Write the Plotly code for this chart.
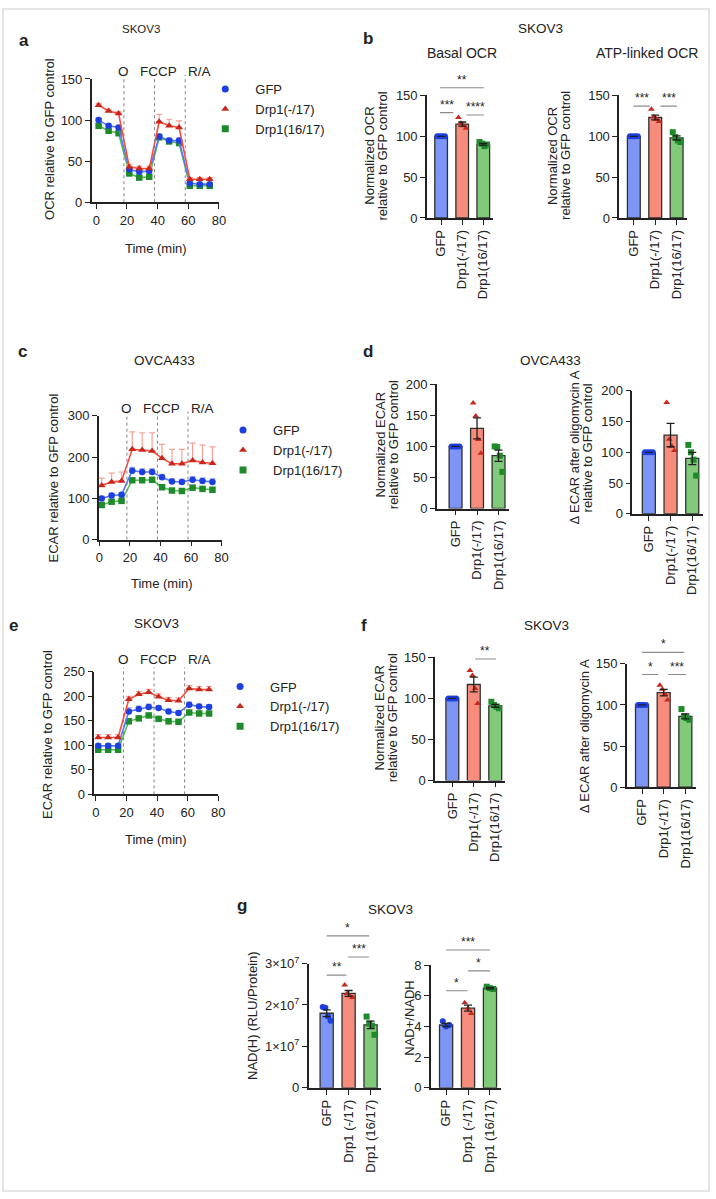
import plotly.graph_objects as go

# ---------------------------------------------------------------- data
TIME_MIN = [1.5, 8, 14.5, 21.5, 28, 34.5, 41, 47.5, 54, 61, 67.5, 74]
INJECTION_MIN = [18, 38, 58]
INJECTION_LABELS = ["O", "FCCP", "R/A"]
GROUPS = ["GFP", "Drp1(-/17)", "Drp1(16/17)"]
GROUPS_G = ["GFP", "Drp1 (-/17)", "Drp1 (16/17)"]

# a: SKOV3 OCR time course (GFP, Drp1(-/17), Drp1(16/17))
A_GFP = [100, 93, 91, 40, 37, 38, 80, 75, 75, 23, 22, 22]
A_M17 = [118, 111, 108, 43, 41, 41, 98, 93, 91, 28, 28, 28]
A_1617 = [93, 87, 84, 35, 30, 31, 79, 74, 72, 20, 20, 20]
A_GFP_ERR = [2, 2, 2, 2, 2, 2, 3, 3, 3, 1, 1, 1]
A_M17_ERR = [2, 2, 2, 3, 3, 3, 9, 8, 8, 2, 2, 2]
A_1617_ERR = [2, 2, 2, 2, 2, 2, 2, 2, 2, 1, 1, 1]

# c: OVCA433 ECAR time course
C_GFP = [100, 107, 109, 167, 164, 164, 151, 141, 140, 145, 142, 140]
C_M17 = [131, 140, 142, 219, 217, 215, 197, 184, 184, 192, 187, 185]
C_1617 = [84, 92, 94, 144, 144, 145, 127, 119, 118, 126, 123, 121]
C_GFP_ERR = [5, 5, 5, 8, 8, 8, 7, 7, 7, 8, 8, 8]
C_M17_ERR = [18, 21, 22, 42, 42, 44, 34, 35, 35, 42, 42, 40]
C_1617_ERR = [3, 3, 3, 5, 5, 5, 4, 4, 4, 5, 5, 5]

# e: SKOV3 ECAR time course
E_GFP = [99, 99, 99, 169, 174, 178, 176, 169, 166, 183, 179, 178]
E_M17 = [116, 116, 116, 194, 204, 208, 199, 192, 191, 216, 214, 214]
E_1617 = [91, 91, 91, 149, 155, 161, 154, 149, 148, 167, 165, 165]
E_GFP_ERR = [4, 4, 4, 8, 6, 6, 5, 5, 5, 5, 5, 5]
E_M17_ERR = [6, 6, 6, 6, 6, 6, 6, 6, 6, 6, 6, 6]
E_1617_ERR = [3, 3, 3, 3, 3, 3, 3, 3, 3, 3, 3, 3]

# b: SKOV3 basal / ATP-linked OCR (bar = mean, error = SEM, replicate points)
B_BASAL_MEAN = [100, 115, 90]
B_BASAL_SEM = [0, 2.5, 1.2]
B_BASAL_PTS = [[100, 100, 100, 100], [123, 116, 113, 110], [93, 91, 88, 90]]
B_ATP_MEAN = [100, 123, 98]
B_ATP_SEM = [0, 3, 2.5]
B_ATP_PTS = [[100, 100, 100, 100], [133, 124, 121, 118], [105, 99, 95, 93]]

# d: OVCA433 ECAR
D_ECAR_MEAN = [100, 129, 85]
D_ECAR_SEM = [0, 17, 9]
D_ECAR_PTS = [[100, 100, 100, 100], [170, 149, 111, 89], [100, 99, 85, 59]]
D_DELTA_MEAN = [100, 128, 90]
D_DELTA_SEM = [0, 19, 10]
D_DELTA_PTS = [[100, 100, 100, 100], [181, 121, 110, 103], [112, 100, 88, 62]]

# f: SKOV3 ECAR
F_ECAR_MEAN = [100, 117, 91]
F_ECAR_SEM = [0, 9, 1.7]
F_ECAR_PTS = [[100, 100, 100, 100], [134, 128, 112, 94], [96, 92, 90, 88]]
F_DELTA_MEAN = [100, 115, 86]
F_DELTA_SEM = [0, 4, 3]
F_DELTA_PTS = [[100, 100, 100, 100], [124, 119, 113, 106], [95, 86, 84, 82]]

# g: SKOV3 NAD(H) and NAD+/NADH
G_NADH_MEAN = [1.80e7, 2.28e7, 1.52e7]
G_NADH_SEM = [0.08e7, 0.07e7, 0.09e7]
G_NADH_PTS = [[1.95e7, 1.93e7, 1.72e7, 1.62e7], [2.48e7, 2.28e7, 2.22e7, 2.18e7],
              [1.72e7, 1.55e7, 1.50e7, 1.28e7]]
G_RATIO_MEAN = [4.1, 5.2, 6.5]
G_RATIO_SEM = [0.1, 0.2, 0.05]
G_RATIO_PTS = [[4.35, 4.0, 4.1], [5.55, 5.2, 4.85], [6.6, 6.5, 6.45]]

# significance brackets: (x start, x end, height, label)
SIG_B_BASAL = [(-0.05, 2.03, 159.5, "**"), (-0.05, 0.58, 129, "***"), (1.2, 2.03, 126, "****")]
SIG_B_ATP = [(-0.02, 0.75, 137, "***"), (1.25, 2.01, 137, "***")]
SIG_F_ECAR = [(1.06, 2.03, 148, "**")]
SIG_F_DELTA = [(0, 1.95, 164, "*"), (0, 0.75, 137, "*"), (1.2, 2.03, 137, "***")]
SIG_G_NADH = [(0, 1.94, 3.67e7, "*"), (0.97, 1.94, 3.16e7, "***"), (0, 0.9, 2.72e7, "**")]
SIG_G_RATIO = [(0, 2.0, 9.0, "***"), (1.0, 2.0, 7.63, "*"), (0, 0.98, 6.34, "*")]

# ---------------------------------------------------------------- style
W, H = 716, 1199
FONT = "Arial, Liberation Sans, Helvetica, sans-serif"
INK = "#222222"
LINE_COLORS = ["#5577ff", "#ff4b3b", "#52c052"]
MARKER_COLORS = ["#1d3fe0", "#c8281c", "#1e8a2a"]
ERR_COLORS = ["#a9b9ff", "#f7a095", "#a6dca6"]
BAR_COLORS = ["#7d95f5", "#f78c7c", "#80ca7a"]
SYMBOLS = ["circle", "triangle-up", "square"]
JITTER = [-0.18, -0.06, 0.06, 0.18]
EXT = 60  # px of extra room above each plot for brackets / injection lines

fig = go.Figure()
layout = dict(width=W, height=H, margin=dict(l=0, r=0, t=0, b=0), autosize=False,
              paper_bgcolor="white", plot_bgcolor="rgba(0,0,0,0)",
              font=dict(family=FONT, size=13, color=INK), showlegend=True)
annotations = []
shapes = []


def fx(px):
    return px / W


def fy(py):
    return 1 - py / H


def axes(k, left, right, top, bottom, xr, yr, xtickvals, xticktext=None,
         xtickangle=0, ytickvals=None, yticktext=None):
    common = dict(showline=True, linecolor=INK, linewidth=1.6, ticks="outside",
                  tickcolor=INK, tickwidth=1.4, showgrid=False, zeroline=False,
                  fixedrange=True, ticklabeloverflow="allow",
                  tickfont=dict(family=FONT, size=13, color=INK))
    xa = dict(common, domain=[fx(left), fx(right)], range=xr, anchor=f"y{k}",
              tickvals=xtickvals, ticklen=5, tickangle=xtickangle)
    if xticktext is not None:
        xa["ticktext"] = xticktext
    ya = dict(common, domain=[fy(bottom), fy(top)], range=yr, anchor=f"x{k}",
              tickvals=ytickvals, ticklen=5)
    if yticktext is not None:
        ya["ticktext"] = yticktext
    layout[f"xaxis{k}"] = xa
    layout[f"yaxis{k}"] = ya
    # taller invisible twin axis with identical scale, for marks above the top tick
    ext_top = top - EXT
    span = (yr[1] - yr[0]) * (bottom - ext_top) / (bottom - top)
    layout[f"yaxis{k + 20}"] = dict(domain=[fy(bottom), fy(ext_top)],
                                    range=[yr[0], yr[0] + span], anchor=f"x{k}",
                                    visible=False, fixedrange=True, showgrid=False,
                                    zeroline=False)


def text(s, x, y, size=13, bold=False, angle=0, xanchor="center"):
    annotations.append(dict(text=f"<b>{s}</b>" if bold else s, x=fx(x), y=fy(y),
                            xref="paper", yref="paper", showarrow=False,
                            xanchor=xanchor, yanchor="middle", textangle=angle,
                            font=dict(family=FONT, size=size, color=INK)))


def timecourse(k, series, errs, legend_name, label_y, ymax):
    for i in [2, 0, 1]:
        fig.add_trace(go.Scatter(
            x=TIME_MIN, y=series[i], mode="lines+markers",
            line=dict(color=LINE_COLORS[i], width=1.6),
            marker=dict(symbol=SYMBOLS[i], size=6.5 if i != 1 else 7, color=MARKER_COLORS[i]),
            error_y=dict(type="data", symmetric=False, array=errs[i],
                         arrayminus=[0] * len(errs[i]), color=ERR_COLORS[i],
                         thickness=1.2, width=3),
            xaxis=f"x{k}", yaxis=f"y{k}", showlegend=False, cliponaxis=False))
    for i in range(3):
        fig.add_trace(go.Scatter(
            x=[None], y=[None], mode="markers", name=GROUPS[i], legend=legend_name,
            marker=dict(symbol=SYMBOLS[i], size=7, color=MARKER_COLORS[i]),
            xaxis=f"x{k}", yaxis=f"y{k}", showlegend=True))
    lx, ly = [], []
    for t in INJECTION_MIN:
        lx += [t, t, None]
        ly += [0, ymax * 1.035, None]
    fig.add_trace(go.Scatter(x=lx, y=ly, mode="lines", showlegend=False,
                             line=dict(color="#808080", width=1, dash="dot"),
                             xaxis=f"x{k}", yaxis=f"y{k + 20}", hoverinfo="skip"))
    shifts = [(0, "center"), (4, "center"), (1, "left")]
    for t, lab, (sh, anc) in zip(INJECTION_MIN, INJECTION_LABELS, shifts):
        annotations.append(dict(text=lab, x=t, xref=f"x{k}", y=fy(label_y), yref="paper",
                                showarrow=False, xanchor=anc, yanchor="middle", xshift=sh,
                                font=dict(family=FONT, size=13.5, color=INK)))


def barpanel(k, means, sems, pts, brackets):
    cats = list(range(len(means)))
    fig.add_trace(go.Bar(x=cats, y=means, width=0.6,
                         marker=dict(color=BAR_COLORS, line=dict(color="#303030", width=1.3)),
                         xaxis=f"x{k}", yaxis=f"y{k}", showlegend=False))
    for i in cats:
        xs = [i + JITTER[j] for j in range(len(pts[i]))] if len(pts[i]) == 4 else \
             [i + d for d in (-0.15, 0.0, 0.15)]
        fig.add_trace(go.Scatter(x=xs, y=pts[i], mode="markers", showlegend=False,
                                 marker=dict(symbol=SYMBOLS[i], size=6, color=MARKER_COLORS[i]),
                                 xaxis=f"x{k}", yaxis=f"y{k}", cliponaxis=False))
    fig.add_trace(go.Scatter(x=cats, y=means, mode="markers", showlegend=False,
                             marker=dict(size=1, color="rgba(0,0,0,0)"),
                             error_y=dict(type="data", array=sems, color="#202020",
                                          thickness=1.3, width=4),
                             xaxis=f"x{k}", yaxis=f"y{k}", cliponaxis=False))
    for x0, x1, yv, lab in brackets:
        fig.add_trace(go.Scatter(x=[x0, x1], y=[yv, yv], mode="lines", showlegend=False,
                                 line=dict(color="#8c8c8c", width=1.1),
                                 xaxis=f"x{k}", yaxis=f"y{k + 20}", hoverinfo="skip"))
        annotations.append(dict(text=lab, x=(x0 + x1) / 2, y=yv, xref=f"x{k}",
                                yref=f"y{k + 20}", showarrow=False, xanchor="center",
                                yanchor="middle", yshift=8,
                                font=dict(family=FONT, size=12, color=INK)))


# ---------------------------------------------------------------- panels
TIME_TICKS = [0, 20, 40, 60, 80]

# a
axes(1, 90, 219, 71, 196, [-3, 80], [0, 150], TIME_TICKS, ytickvals=[0, 50, 100, 150])
timecourse(1, [A_GFP, A_M17, A_1617], [A_GFP_ERR, A_M17_ERR, A_1617_ERR], "legend", 63, 150)
# c
axes(4, 97.3, 221.7, 412.7, 538.3, [-0.3, 80], [0, 300], TIME_TICKS, ytickvals=[0, 100, 200, 300])
timecourse(4, [C_GFP, C_M17, C_1617], [C_GFP_ERR, C_M17_ERR, C_1617_ERR], "legend2", 405, 300)
# e
axes(7, 92.7, 218.3, 672.3, 796.7, [-1, 80], [0, 250], TIME_TICKS,
     ytickvals=[0, 50, 100, 150, 200, 250])
timecourse(7, [E_GFP, E_M17, E_1617], [E_GFP_ERR, E_M17_ERR, E_1617_ERR], "legend3", 660, 250)

CAT_IDX = [0, 1, 2]
# b
axes(2, 430, 496.7, 87.7, 212, [-0.67, 2.45], [0, 150], CAT_IDX, GROUPS, -90, [0, 50, 100, 150])
barpanel(2, B_BASAL_MEAN, B_BASAL_SEM, B_BASAL_PTS, SIG_B_BASAL)
axes(3, 625, 694, 87.7, 212, [-0.68, 2.5], [0, 150], CAT_IDX, GROUPS, -90, [0, 50, 100, 150])
barpanel(3, B_ATP_MEAN, B_ATP_SEM, B_ATP_PTS, SIG_B_ATP)
# d
axes(5, 440, 513, 380.7, 506.7, [-0.87, 2.48], [0, 200], CAT_IDX, GROUPS, -90,
     [0, 50, 100, 150, 200])
barpanel(5, D_ECAR_MEAN, D_ECAR_SEM, D_ECAR_PTS, [])
axes(6, 638.3, 710, 387.3, 512, [-0.76, 2.5], [0, 200], CAT_IDX, GROUPS, -90,
     [0, 50, 100, 150, 200])
barpanel(6, D_DELTA_MEAN, D_DELTA_SEM, D_DELTA_PTS, [])
# f
axes(8, 438.3, 509, 657.7, 782.7, [-0.8, 2.45], [0, 150], CAT_IDX, GROUPS, -90, [0, 50, 100, 150])
barpanel(8, F_ECAR_MEAN, F_ECAR_SEM, F_ECAR_PTS, SIG_F_ECAR)
axes(9, 632.7, 703, 664.3, 789.3, [-0.7, 2.5], [0, 150], CAT_IDX, GROUPS, -90, [0, 50, 100, 150])
barpanel(9, F_DELTA_MEAN, F_DELTA_SEM, F_DELTA_PTS, SIG_F_DELTA)
# g
axes(10, 310, 383, 968.3, 1094.3, [-0.82, 2.46], [0, 3e7], CAT_IDX, GROUPS_G, -90,
     [0, 1e7, 2e7, 3e7], ["0", "1×10<sup>7</sup>", "2×10<sup>7</sup>", "3×10<sup>7</sup>"])
barpanel(10, G_NADH_MEAN, G_NADH_SEM, G_NADH_PTS, SIG_G_NADH)
axes(11, 434, 505, 970, 1094.3, [-0.69, 2.5], [0, 8], CAT_IDX, GROUPS_G, -90, [0, 2, 4, 6, 8])
barpanel(11, G_RATIO_MEAN, G_RATIO_SEM, G_RATIO_PTS, SIG_G_RATIO)

# ---------------------------------------------------------------- legends
# (left edge, top edge) in px: marker centre sits 30 px right, first row ~15 px down
for name, lx, ly in [("legend", 195, 66), ("legend2", 213, 412), ("legend3", 210, 672)]:
    layout[name] = dict(x=fx(lx), y=fy(ly), xanchor="left", yanchor="top",
                        xref="paper", yref="paper", bgcolor="rgba(0,0,0,0)",
                        itemwidth=50, font=dict(family=FONT, size=13, color=INK),
                        itemclick=False, itemdoubleclick=False)

# ---------------------------------------------------------------- texts
for s, x, y, sz in [("SKOV3", 140, 20, 11.5), ("SKOV3", 545, 20, 13.5),
                    ("Basal OCR", 465, 45, 14), ("ATP-linked OCR", 653, 45, 14),
                    ("OVCA433", 164, 357, 13.5), ("OVCA433", 555, 357, 13.5),
                    ("SKOV3", 156, 623, 13.5), ("SKOV3", 551, 625, 13.5),
                    ("SKOV3", 393, 913, 13.5)]:
    text(s, x, y, sz)
for s, x, y in [("a", 21, 32), ("b", 370, 30), ("c", 20, 347), ("d", 370, 347),
                ("e", 11, 625), ("f", 366, 625), ("g", 242, 909)]:
    text(s, x, y, 17, bold=True)
for s, x, y in [("Time (min)", 155, 243), ("Time (min)", 161, 583), ("Time (min)", 155, 842)]:
    text(s, x, y, 13)
for s, x, y in [("OCR relative to GFP control", 47, 131.5),
                ("ECAR relative to GFP control", 51, 476),
                ("ECAR relative to GFP control", 45, 736),
                ("Normalized OCR", 372, 149), ("relative to GFP control", 385, 149),
                ("Normalized OCR", 558, 149), ("relative to GFP control", 571, 149),
                ("Normalized ECAR", 383, 442), ("relative to GFP control", 396, 442),
                ("Δ ECAR after oligomycin A", 580, 445), ("relative to GFP control", 593, 445),
                ("Normalized ECAR", 382, 719), ("relative to GFP control", 395, 719),
                ("Δ ECAR after oligomycin A", 590, 738),
                ("NAD(H) (RLU/Protein)", 253, 1021),
                ("NAD+/NADH", 412, 1023)]:
    text(s, x, y, 13, angle=-90)

shapes.append(dict(type="rect", xref="paper", yref="paper", x0=0, x1=1, y0=0, y1=1,
                   line=dict(color="#dddddd", width=1.5)))

layout["annotations"] = annotations
layout["shapes"] = shapes
fig.update_layout(**layout)
PIN_TO_CORNER = ("document.documentElement.style.margin='0';document.body.style.margin='0';"
                 "document.body.style.overflow='hidden';"
                 "var d=document.querySelector('.plotly-graph-div');"
                 "d.style.position='fixed';d.style.left='0px';d.style.top='0px';")
fig.write_html("out.html", config={"responsive": False, "displayModeBar": False},
               post_script=PIN_TO_CORNER)
